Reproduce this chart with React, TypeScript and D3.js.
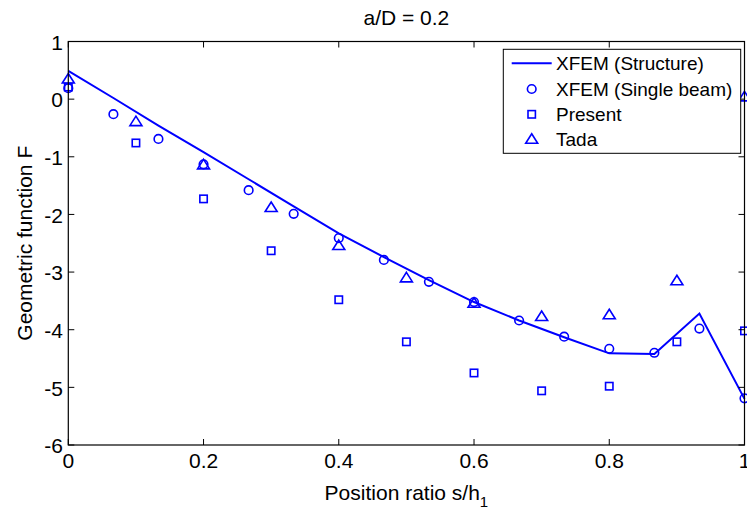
import React from "react";
import * as d3 from "d3";

const xFine = [0, 0.0667, 0.1333, 0.2, 0.2667, 0.3333, 0.4, 0.4667, 0.5333, 0.6, 0.6667, 0.7333, 0.8, 0.8667, 0.9333, 1];
const structureY = [0.49, 0.02, -0.46, -0.92, -1.39, -1.86, -2.33, -2.74, -3.14, -3.52, -3.84, -4.13, -4.41, -4.42, -3.72, -5.2];
const singleBeamY = [0.19, -0.26, -0.69, -1.13, -1.58, -1.99, -2.41, -2.79, -3.17, -3.52, -3.84, -4.12, -4.33, -4.4, -3.98, -5.19];
const xCoarse = [0, 0.1, 0.2, 0.3, 0.4, 0.5, 0.6, 0.7, 0.8, 0.9, 1];
const presentY = [0.21, -0.76, -1.73, -2.63, -3.48, -4.21, -4.75, -5.06, -4.98, -4.21, -4.02];
const tadaY = [0.35, -0.39, -1.14, -1.88, -2.54, -3.1, -3.54, -3.77, -3.74, -3.15, 0.04];
const xTicks = [0, 0.2, 0.4, 0.6, 0.8, 1];
const xTickLabels = ["0", "0.2", "0.4", "0.6", "0.8", "1"];
const yTicks = [1, 0, -1, -2, -3, -4, -5, -6];
const yTickLabels = ["1", "0", "-1", "-2", "-3", "-4", "-5", "-6"];
const legendLabels = ["XFEM (Structure)", "XFEM (Single beam)", "Present", "Tada"];
const titleText = "a/D = 0.2";
const xLabelText = "Position ratio s/h";
const xLabelSub = "1";
const yLabelText = "Geometric function F";

const W = 747;
const H = 513;
const L = 68.3, R = 744.5, T = 41.5, B = 445;
const BLUE = "#0000ff";
const FONT = "'Liberation Sans', Arial, sans-serif";
const FS = 21;
const LFS = 19;

function Txt({ x, y, anchor = "start", rotate = 0, children, size = FS }: any) {
  return (
    <text
      transform={`translate(${x},${y}) rotate(${rotate})`}
      textAnchor={anchor}
      fontFamily={FONT}
      fontSize={size}
      fill="#000"
    >
      {children}
    </text>
  );
}

const Circle = ({ cx, cy }: any) => <circle cx={cx} cy={cy} r={4.3} fill="none" stroke={BLUE} strokeWidth={1.6} />;
const Square = ({ cx, cy }: any) => <rect x={cx - 3.7} y={cy - 3.7} width={7.4} height={7.4} fill="none" stroke={BLUE} strokeWidth={1.6} />;
const Tri = ({ cx, cy }: any) => (
  <path d={`M${cx},${cy - 5.5}L${cx + 6},${cy + 4}L${cx - 6},${cy + 4}Z`} fill="none" stroke={BLUE} strokeWidth={1.6} strokeLinejoin="miter" />
);

export default function App() {
  const x = d3.scaleLinear().domain([0, 1]).range([L, R]);
  const y = d3.scaleLinear().domain([-6, 1]).range([B, T]);
  const line = d3.line<number>().x((_, i) => x(xFine[i])).y((d) => y(d));
  const tick = 6;

  const lgX0 = 503.3, lgY0 = 49.3, lgX1 = 740.7, lgY1 = 153.3;
  const rowY = [63.3, 89, 114.3, 139.3];
  const mX = 531.7;

  return (
    <svg width={W} height={H} style={{ position: "absolute", left: 0, top: 0, background: "#fff" }}>
      <rect x={0} y={0} width={W} height={H} fill="#fff" />
      {/* data */}
      <path d={line(structureY) || ""} fill="none" stroke={BLUE} strokeWidth={2} />
      {singleBeamY.map((v, i) => <Circle key={"c" + i} cx={x(xFine[i])} cy={y(v)} />)}
      {presentY.map((v, i) => <Square key={"s" + i} cx={x(xCoarse[i])} cy={y(v)} />)}
      {tadaY.map((v, i) => <Tri key={"t" + i} cx={x(xCoarse[i])} cy={y(v)} />)}

      {/* axes box */}
      <rect x={L} y={T} width={R - L} height={B - T} fill="none" stroke="#000" strokeWidth={1.2} />
      {xTicks.map((t, i) => (
        <g key={"xt" + i}>
          <line x1={x(t)} x2={x(t)} y1={B} y2={B - tick} stroke="#000" strokeWidth={1} />
          <line x1={x(t)} x2={x(t)} y1={T} y2={T + tick} stroke="#000" strokeWidth={1} />
          <Txt x={x(t)} y={468} anchor="middle">{xTickLabels[i]}</Txt>
        </g>
      ))}
      {yTicks.map((t, i) => (
        <g key={"yt" + i}>
          <line x1={L} x2={L + tick} y1={y(t)} y2={y(t)} stroke="#000" strokeWidth={1} />
          <line x1={R} x2={R - tick} y1={y(t)} y2={y(t)} stroke="#000" strokeWidth={1} />
          <Txt x={63} y={y(t) + 8.2} anchor="end">{yTickLabels[i]}</Txt>
        </g>
      ))}

      {/* labels */}
      <Txt x={(L + R) / 2} y={25} anchor="middle">{titleText}</Txt>
      <text
        transform={`translate(${(L + R) / 2},500)`}
        textAnchor="middle"
        fontFamily={FONT}
        fontSize={FS}
        fill="#000"
      >
        {xLabelText}
        <tspan fontSize={15} dy={7}>{xLabelSub}</tspan>
      </text>
      <Txt x={31.5} y={(T + B) / 2} anchor="middle" rotate={-90}>{yLabelText}</Txt>

      {/* legend */}
      <rect x={lgX0} y={lgY0} width={lgX1 - lgX0} height={lgY1 - lgY0} fill="#fff" stroke="#000" strokeWidth={1} />
      <line x1={511.7} x2={551.7} y1={rowY[0]} y2={rowY[0]} stroke={BLUE} strokeWidth={2} />
      <Circle cx={mX} cy={rowY[1]} />
      <Square cx={mX} cy={rowY[2]} />
      <Tri cx={mX} cy={rowY[3]} />
      {legendLabels.map((lab, i) => (
        <Txt key={"lg" + i} x={556} y={rowY[i] + 7} size={LFS}>{lab}</Txt>
      ))}
    </svg>
  );
}
